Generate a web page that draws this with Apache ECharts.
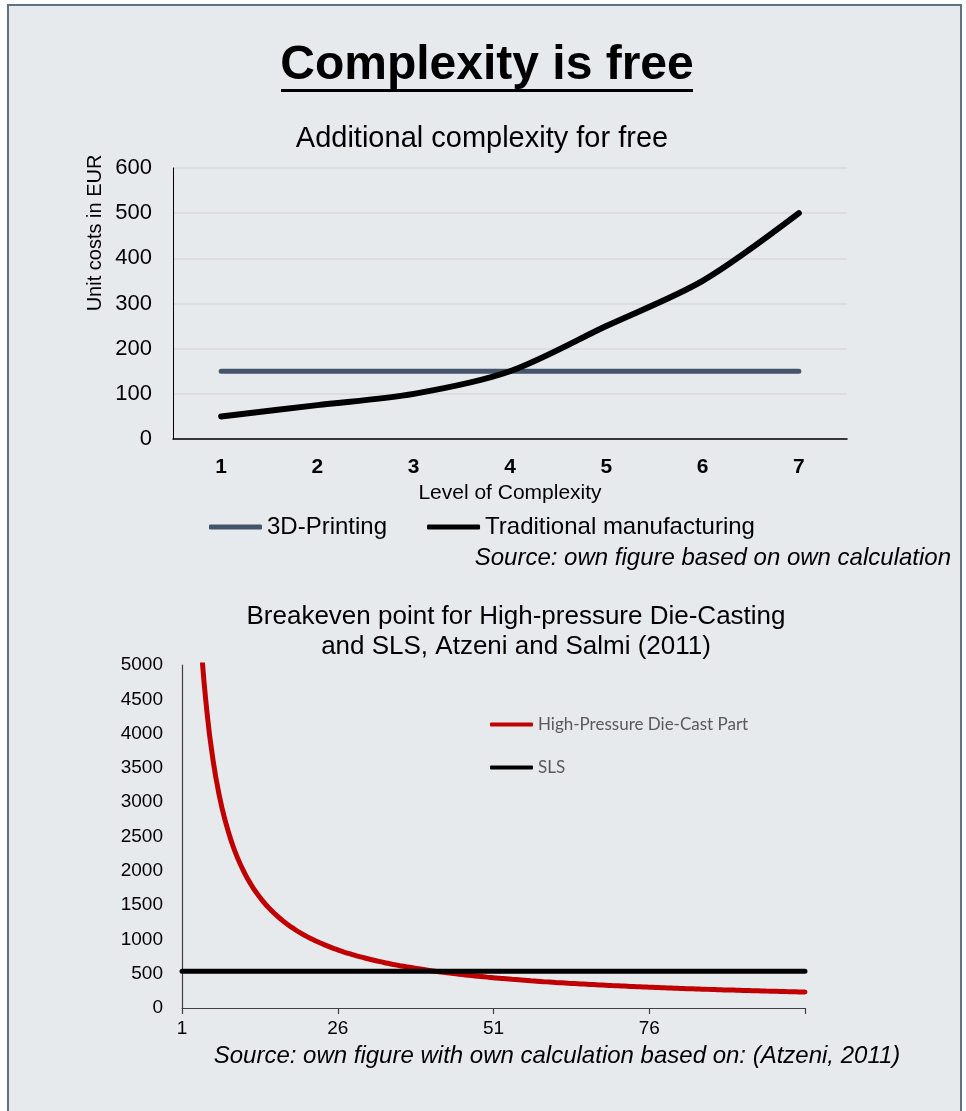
<!DOCTYPE html>
<html><head><meta charset="utf-8">
<script src="https://cdn.jsdelivr.net/npm/echarts@6/dist/echarts.min.js"></script>
<style>html,body{margin:0;padding:0;background:#fff}#c{width:966px;height:1111px}</style>
</head><body><div id="c"></div>
<script>
// ---- Chart 1: Additional complexity for free ----
const levels = ['1', '2', '3', '4', '5', '6', '7'];
const printing3D = [150, 150, 150, 150, 150, 150, 150];
const traditional = [50, 75, 100, 150, 250, 350, 500];

// ---- Chart 2: Breakeven point ----
const quantities = Array.from({length: 101}, (_, i) => String(i + 1));
const dieCast = [21520, 10770, 7187, 5395, 4320, 3603, 3091, 2708, 2409, 2170,
  1975, 1812, 1674, 1556, 1453, 1364, 1285, 1214, 1152, 1095,
  1044, 997, 955, 916, 880, 847, 816, 788, 761, 737,
  714, 692, 672, 652, 634, 617, 601, 586, 571, 558,
  544, 532, 520, 509, 498, 487, 477, 468, 459, 450,
  442, 433, 426, 418, 411, 404, 397, 391, 384, 378,
  372, 367, 361, 356, 351, 346, 341, 336, 332, 327,
  323, 319, 315, 311, 307, 303, 299, 296, 292, 289,
  285, 282, 279, 276, 273, 270, 267, 264, 262, 259,
  256, 254, 251, 249, 246, 244, 242, 239, 237, 235, 233];
const sls = [535, 535, 535, 535, 535, 535, 535, 535, 535, 535,
  535, 535, 535, 535, 535, 535, 535, 535, 535, 535,
  535, 535, 535, 535, 535, 535, 535, 535, 535, 535,
  535, 535, 535, 535, 535, 535, 535, 535, 535, 535,
  535, 535, 535, 535, 535, 535, 535, 535, 535, 535,
  535, 535, 535, 535, 535, 535, 535, 535, 535, 535,
  535, 535, 535, 535, 535, 535, 535, 535, 535, 535,
  535, 535, 535, 535, 535, 535, 535, 535, 535, 535,
  535, 535, 535, 535, 535, 535, 535, 535, 535, 535,
  535, 535, 535, 535, 535, 535, 535, 535, 535, 535, 535];

const F = '"Liberation Sans", Arial, sans-serif';
const chart = echarts.init(document.getElementById('c'));

const option = {
  backgroundColor: '#ffffff',
  animation: false,
  graphic: [
    { type: 'rect', z: -10, silent: true,
      shape: { x: 8, y: 5, width: 953, height: 1130 },
      style: { fill: '#e7eaed', stroke: '#5d7282', lineWidth: 2 } },
    { type: 'text', x: 487, y: 66,
      style: { text: 'Complexity is free', font: 'bold 48px ' + F, fill: '#000',
               textAlign: 'center', textVerticalAlign: 'middle' } },
    { type: 'rect', shape: { x: 281, y: 89, width: 412, height: 3 }, style: { fill: '#000' } },
    { type: 'text', x: 482, y: 139,
      style: { text: 'Additional complexity for free', font: '29px ' + F, fill: '#000',
               textAlign: 'center', textVerticalAlign: 'middle' } },
    { type: 'text', x: 95, y: 233, rotation: Math.PI / 2,
      style: { text: 'Unit costs in EUR', font: '20px ' + F, fill: '#000',
               textAlign: 'center', textVerticalAlign: 'middle' } },
    { type: 'text', x: 951, y: 558,
      style: { text: 'Source: own figure based on own calculation', font: 'italic 24px ' + F, fill: '#000',
               textAlign: 'right', textVerticalAlign: 'middle' } },
    { type: 'text', x: 516, y: 632,
      style: { text: 'Breakeven point for High-pressure Die-Casting\nand SLS, Atzeni and Salmi (2011)',
               font: '26px ' + F, lineHeight: 30, fill: '#000',
               textAlign: 'center', textVerticalAlign: 'middle' } },
    { type: 'text', x: 557, y: 1056,
      style: { text: 'Source: own figure with own calculation based on: (Atzeni, 2011)', font: 'italic 24px ' + F, fill: '#000',
               textAlign: 'center', textVerticalAlign: 'middle' } }
  ],
  legend: [
    { data: ['3D-Printing', 'Traditional manufacturing'],
      left: 209, top: 515, padding: 0, itemGap: 40, itemWidth: 53, itemHeight: 5,
      icon: 'roundRect',
      textStyle: { fontFamily: F, fontSize: 24, color: '#000' } },
    { data: ['High-Pressure Die-Cast Part', 'SLS'], orient: 'vertical',
      left: 490, top: 716, padding: 0, itemGap: 26, itemWidth: 43, itemHeight: 4,
      icon: 'roundRect',
      textStyle: { fontFamily: 'Lato, "Open Sans", sans-serif', fontSize: 17, color: '#595959' } }
  ],
  grid: [
    { left: 173, right: 119, top: 168, bottom: 672 },
    { left: 182, right: 161, top: 665, bottom: 103 }
  ],
  xAxis: [
    { gridIndex: 0, type: 'category', data: levels, boundaryGap: true,
      name: 'Level of Complexity', nameLocation: 'middle', nameGap: 44,
      nameTextStyle: { fontFamily: F, fontSize: 21, color: '#000' },
      axisLine: { lineStyle: { color: '#000', width: 1.5 } },
      axisTick: { show: false },
      axisLabel: { margin: 18, fontFamily: F, fontSize: 21, fontWeight: 'bold', color: '#000' } },
    { gridIndex: 1, type: 'category', data: quantities, boundaryGap: false,
      axisLine: { lineStyle: { color: '#404040', width: 1.2 } },
      axisTick: { show: true, interval: 24, length: 6, lineStyle: { color: '#404040', width: 1.2 } },
      axisLabel: { interval: 24, margin: 11, fontFamily: F, fontSize: 19, color: '#000',
                   formatter: v => (v === '101' ? '' : v) } }
  ],
  yAxis: [
    { gridIndex: 0, type: 'value', min: 0, max: 600, interval: 100,
      axisLine: { show: true, lineStyle: { color: '#000', width: 1 } },
      axisTick: { show: false },
      splitLine: { lineStyle: { color: '#d9d9d9', width: 1.5 } },
      axisLabel: { margin: 21, fontFamily: F, fontSize: 22, color: '#000' } },
    { gridIndex: 1, type: 'value', min: 0, max: 5000, interval: 500,
      axisLine: { show: true, lineStyle: { color: '#404040', width: 1.2 } },
      axisTick: { show: false },
      splitLine: { show: false },
      axisLabel: { margin: 19, fontFamily: F, fontSize: 19, color: '#000',
                   formatter: v => String(v) } }
  ],
  series: [
    { name: '3D-Printing', type: 'line', xAxisIndex: 0, yAxisIndex: 0, data: printing3D,
      symbol: 'none', color: '#44546a', lineStyle: { width: 5, color: '#44546a', cap: 'round' } },
    { name: 'Traditional manufacturing', type: 'line', xAxisIndex: 0, yAxisIndex: 0, data: traditional,
      symbol: 'none', smooth: 0.3, color: '#000', lineStyle: { width: 6, color: '#000', cap: 'round' } },
    { name: 'High-Pressure Die-Cast Part', type: 'line', xAxisIndex: 1, yAxisIndex: 1, data: dieCast,
      symbol: 'none', smooth: true, clip: true, color: '#c00000', lineStyle: { width: 5, color: '#c00000', cap: 'round' } },
    { name: 'SLS', type: 'line', xAxisIndex: 1, yAxisIndex: 1, data: sls,
      symbol: 'none', color: '#000', lineStyle: { width: 5, color: '#000', cap: 'round' } }
  ]
};
chart.setOption(option);
</script>
</body></html>
